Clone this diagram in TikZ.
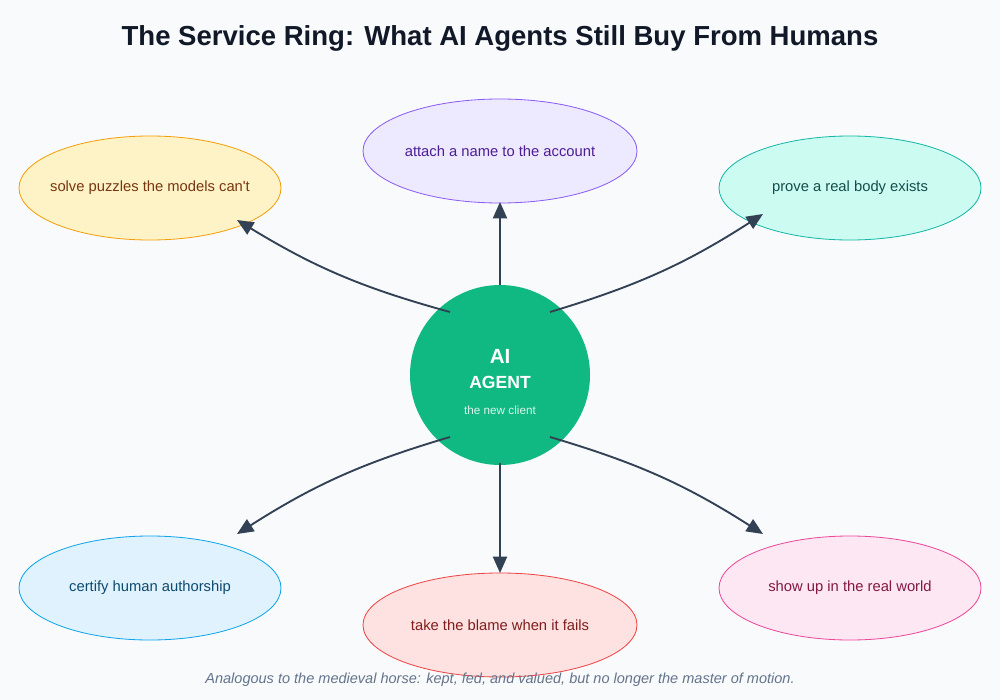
\documentclass[tikz,border=0pt]{standalone}
\usepackage{fontspec}
\setmainfont{Liberation Sans}
\usetikzlibrary{arrows.meta,shapes.geometric}
\definecolor{bg}{HTML}{F8FAFC}
\definecolor{ink}{HTML}{334155}
\definecolor{agent}{HTML}{10B981}
\definecolor{puzzlefill}{HTML}{FEF3C7}\definecolor{puzzledraw}{HTML}{F59E0B}\definecolor{puzzletext}{HTML}{78350F}
\definecolor{namefill}{HTML}{EDE9FE}\definecolor{namedraw}{HTML}{8B5CF6}\definecolor{nametext}{HTML}{4C1D95}
\definecolor{bodyfill}{HTML}{CCFBF1}\definecolor{bodydraw}{HTML}{14B8A6}\definecolor{bodytext}{HTML}{134E4A}
\definecolor{authorfill}{HTML}{E0F2FE}\definecolor{authordraw}{HTML}{0EA5E9}\definecolor{authortext}{HTML}{0C4A6E}
\definecolor{blamefill}{HTML}{FEE2E2}\definecolor{blamedraw}{HTML}{EF4444}\definecolor{blametext}{HTML}{7F1D1D}
\definecolor{worldfill}{HTML}{FCE7F3}\definecolor{worlddraw}{HTML}{EC4899}\definecolor{worldtext}{HTML}{831843}
\definecolor{titletext}{HTML}{111827}
\definecolor{notetext}{HTML}{64748B}
\begin{document}
\begin{tikzpicture}[x=0.03cm,y=-0.03cm,
    service/.style={ellipse,minimum width=7.86cm,minimum height=3.12cm,line width=0.7pt,inner xsep=-1.2cm,
        fill=#1fill,draw=#1draw,text=#1text,font=\fontsize{12.6}{14}\selectfont},
    link/.style={-{Triangle[length=14pt,width=12pt,fill=ink]},line width=1.6pt,draw=ink}]
    \tikzset{every node/.style={inner sep=0pt}}
    % Styles
    \fill[bg] (0,0) rectangle (1000,700);
    \node[text=titletext,font=\fontsize{23.5}{28}\selectfont\bfseries] (title) at (500,38) {The Service Ring: What AI Agents Still Buy From Humans};
    %services
    \node[service=puzzle] (puzzle) at (150,188) {solve puzzles the models can\textquotesingle t};
    \node[service=name,minimum width=8.22cm] (name) at (500,151) {attach a name to the account};
    \node[service=body] (body) at (850,188) {prove a real body exists};
    \node[service=author] (author) at (150,588) {certify human authorship};
    \node[service=blame,minimum width=8.22cm] (blame) at (500,625) {take the blame when it fails};
    \node[service=world] (world) at (850,588) {show up in the real world};
    %agent
    \node[circle,fill=agent,minimum size=5.4cm] (agent) at (500,375) {};
    \node[text=white,align=center] (agent text) at (500,382)
        {{\fontsize{17.5}{20}\selectfont\bfseries AI}\\[10pt]{\fontsize{15}{18}\selectfont\bfseries AGENT}\\[10pt]{\fontsize{10}{12}\selectfont\color{white!85!agent}the new client}};
    \coordinate (tl) at (450,312); \coordinate (tr) at (550,312);
    \coordinate (bl) at (450,437); \coordinate (br) at (550,437);
    \coordinate (tc) at (500,285); \coordinate (bc) at (500,463);
    \coordinate (tl') at (237,220); \coordinate (tr') at (763,214);
    \coordinate (bl') at (237,534); \coordinate (br') at (763,534);
    \coordinate (tc') at (500,202); \coordinate (bc') at (500,573);
    %arrows
    \draw[link] (tl) to[bend left=8] (tl');
    \draw[link] (tc) -- (tc');
    \draw[link] (tr) to[bend right=8] (tr');
    \draw[link] (bl) to[bend right=8] (bl');
    \draw[link] (bc) -- (bc');
    \draw[link] (br) to[bend left=8] (br');
    \node[text=notetext,font=\fontsize{12.4}{14}\selectfont\itshape] (note) at (500,680) {Analogous to the medieval horse: kept, fed, and valued, but no longer the master of motion.};
\end{tikzpicture}
\end{document}
